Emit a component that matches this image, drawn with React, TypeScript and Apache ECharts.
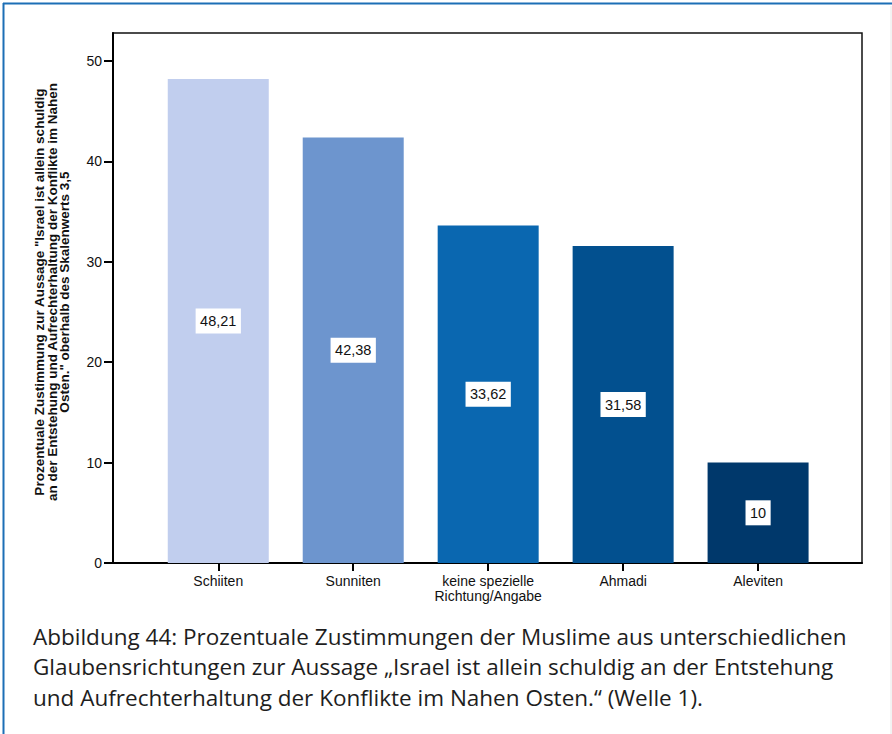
import React, { useEffect, useRef } from "react";
import * as echarts from "echarts";

const categories = [
  "Schiiten",
  "Sunniten",
  "keine spezielle\nRichtung/Angabe",
  "Ahmadi",
  "Aleviten",
];
const values = [48.21, 42.38, 33.62, 31.58, 10];
const valueLabels = ["48,21", "42,38", "33,62", "31,58", "10"];
const barColors = ["#c1ceee", "#6d95ce", "#0a67b0", "#02508f", "#00386b"];
const yTicks = [0, 10, 20, 30, 40, 50];
const xTicks = [0, 1, 2, 3, 4];
const yAxisTitle =
  'Prozentuale Zustimmung zur Aussage "Israel ist allein schuldig\nan der Entstehung und Aufrechterhaltung der Konflikte im Nahen\nOsten." oberhalb des Skalenwerts 3,5';
const captionLines = [
  "Abbildung 44: Prozentuale Zustimmungen der Muslime aus unterschiedlichen",
  "Glaubensrichtungen zur Aussage \u201eIsrael ist allein schuldig an der Entstehung",
  "und Aufrechterhaltung der Konflikte im Nahen Osten.\u201c (Welle 1).",
];

const AXIS_FONT = "'Liberation Sans', Arial, sans-serif";

export default function App() {
  const ref = useRef<HTMLDivElement>(null);
  useEffect(() => {
    document.body.style.margin = "0";
    const chart = echarts.init(ref.current!, null, { renderer: "svg" });
    chart.setOption({
      animation: false,
      backgroundColor: "#ffffff",
      grid: {
        left: 113,
        top: 33,
        width: 749,
        height: 530,
        show: true,
        borderColor: "#111",
        borderWidth: 1.5,
        backgroundColor: "transparent",
      },
      xAxis: {
        type: "value",
        min: -0.78,
        max: 4.77,
        splitLine: { show: false },
        axisLine: { show: true, onZero: false, lineStyle: { color: "#000", width: 2 } },
        axisTick: {
          show: true,
          customValues: xTicks,
          length: 8,
          lineStyle: { color: "#000", width: 2 },
        },
        axisLabel: {
          customValues: xTicks,
          formatter: (v: number) => categories[Math.round(v)] ?? "",
          color: "#111",
          fontSize: 14,
          fontFamily: AXIS_FONT,
          lineHeight: 15,
          margin: 10,
        },
      },
      yAxis: {
        type: "value",
        min: 0,
        max: 52.8,
        splitLine: { show: false },
        axisLine: { show: true, onZero: false, lineStyle: { color: "#000", width: 2 } },
        axisTick: {
          show: true,
          customValues: yTicks,
          length: 9,
          lineStyle: { color: "#000", width: 2 },
        },
        axisLabel: {
          customValues: yTicks,
          color: "#111",
          fontSize: 14,
          fontFamily: AXIS_FONT,
          margin: 11,
        },
      },
      series: [
        {
          type: "bar",
          barWidth: 101,
          data: values.map((v, i) => ({
            value: [i, v],
            itemStyle: { color: barColors[i] },
          })),
          label: {
            show: true,
            position: "inside",
            formatter: (p: any) => valueLabels[p.dataIndex],
            backgroundColor: "#fff",
            color: "#111",
            fontSize: 14.5,
            fontFamily: AXIS_FONT,
            lineHeight: 15,
            padding: [5, 4.5, 5, 4.5],
          },
        },
      ],
      graphic: [
        {
          type: "line",
          shape: { x1: 3, y1: 3.5, x2: 892, y2: 3.5 },
          style: { stroke: "#1c6fb6", lineWidth: 2 },
        },
        {
          type: "line",
          shape: { x1: 3.5, y1: 3, x2: 3.5, y2: 734 },
          style: { stroke: "#1c6fb6", lineWidth: 2 },
        },
        {
          type: "line",
          shape: { x1: 891, y1: 6, x2: 891, y2: 734 },
          style: { stroke: "#e6e6e6", lineWidth: 1 },
        },
        {
          type: "text",
          x: 52,
          y: 292,
          rotation: Math.PI / 2,
          style: {
            text: yAxisTitle,
            fill: "#111",
            font: `bold 13.5px ${AXIS_FONT}`,
            lineHeight: 12.5,
            align: "center",
            verticalAlign: "middle",
          },
        },
        ...captionLines.map((t, i) => ({
          type: "text",
          x: 33,
          y: 636 + i * 30.5,
          style: {
            text: t,
            fill: "#1e1e1e",
            font: "22.5px 'Open Sans', sans-serif",
            align: "left",
            verticalAlign: "middle",
          },
        })),
      ],
    });
    return () => chart.dispose();
  }, []);
  return <div ref={ref} style={{ width: 892, height: 734 }} />;
}
